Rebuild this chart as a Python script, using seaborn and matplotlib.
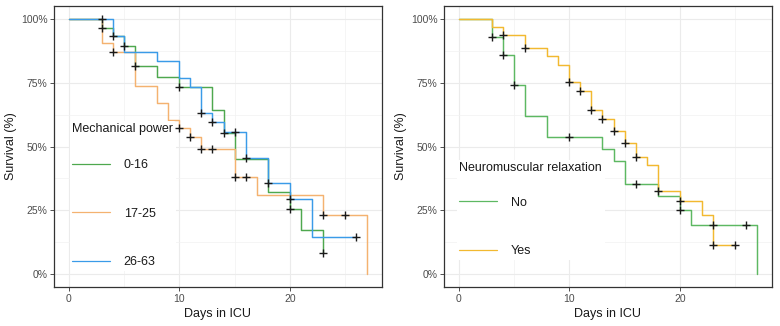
import numpy as np
import pandas as pd
import matplotlib
matplotlib.use("Agg")
import matplotlib.pyplot as plt
from matplotlib.lines import Line2D
import seaborn as sns

# ---------------- data ----------------
# Left panel: Mechanical power
mp_groups = ["0-16", "17-25", "26-63"]
mp_t_016 = [0, 3, 4, 5, 6, 8, 10, 13, 14, 15, 18, 20, 21, 23]
mp_s_016 = [100, 96.4, 93.1, 89.2, 81.4, 77.2, 73.3, 64.2, 55.3, 45.2, 32.2, 25.7, 17.3, 8.2]
mp_t_1725 = [0, 3, 4, 6, 8, 9, 10, 11, 12, 15, 17, 23, 27]
mp_s_1725 = [100, 90.6, 86.8, 73.6, 67.1, 60.5, 57.3, 53.6, 49.2, 38.2, 30.9, 23.0, 0]
mp_t_2663 = [0, 4, 5, 8, 10, 11, 12, 13, 14, 16, 18, 20, 22, 26]
mp_s_2663 = [100, 93.1, 86.8, 83.3, 76.8, 73.3, 63.3, 59.5, 55.5, 45.6, 35.8, 29.6, 14.7, 14.7]

mp_cens_t_016 = [3, 5, 6, 10, 14, 20, 23]
mp_cens_s_016 = [96.4, 89.2, 81.4, 73.3, 55.3, 25.7, 8.2]
mp_cens_t_1725 = [4, 10, 11, 12, 13, 15, 16, 23, 25]
mp_cens_s_1725 = [86.8, 57.3, 53.6, 49.2, 49.2, 38.2, 38.2, 23.0, 23.0]
mp_cens_t_2663 = [3, 4, 12, 13, 15, 16, 18, 20, 26]
mp_cens_s_2663 = [100, 93.1, 63.3, 59.5, 55.5, 45.6, 35.8, 29.6, 14.7]

# Right panel: Neuromuscular relaxation
nm_groups = ["No", "Yes"]
nm_t_no = [0, 3, 4, 5, 6, 8, 13, 14, 15, 18, 20, 21, 27]
nm_s_no = [100, 92.8, 85.7, 73.9, 61.8, 53.6, 49.1, 44.5, 35.5, 30.6, 25.3, 19.1, 0]
nm_t_yes = [0, 3, 4, 6, 8, 9, 10, 11, 12, 13, 14, 15, 16, 17, 18, 20, 22, 23, 25]
nm_s_yes = [100, 96.9, 93.8, 88.5, 85.4, 82.0, 75.1, 71.6, 64.4, 60.8, 56.0, 51.4, 46.0,
            42.6, 32.5, 28.8, 23.2, 11.3, 11.3]

nm_cens_t_no = [3, 4, 5, 10, 16, 20, 23, 26]
nm_cens_s_no = [92.8, 85.7, 73.9, 53.6, 35.5, 25.3, 19.1, 19.1]
nm_cens_t_yes = [4, 6, 10, 11, 12, 13, 14, 15, 16, 18, 20, 23, 25]
nm_cens_s_yes = [93.8, 88.5, 75.1, 71.6, 64.4, 60.8, 56.0, 51.4, 46.0, 32.5, 28.8, 11.3, 11.3]

x_ticks = [0, 10, 20]
y_ticks = [0, 25, 50, 75, 100]
y_ticklabels = ["0%", "25%", "50%", "75%", "100%"]

# ---------------- build tables ----------------
def steps_df(groups, ts, ss):
    rows = []
    for g, t, s in zip(groups, ts, ss):
        for ti, si in zip(t, s):
            rows.append({"group": g, "time": ti, "surv": si})
    return pd.DataFrame(rows)

mp_steps = steps_df(mp_groups, [mp_t_016, mp_t_1725, mp_t_2663],
                    [mp_s_016, mp_s_1725, mp_s_2663])
mp_cens = steps_df(mp_groups, [mp_cens_t_016, mp_cens_t_1725, mp_cens_t_2663],
                   [mp_cens_s_016, mp_cens_s_1725, mp_cens_s_2663])
nm_steps = steps_df(nm_groups, [nm_t_no, nm_t_yes], [nm_s_no, nm_s_yes])
nm_cens = steps_df(nm_groups, [nm_cens_t_no, nm_cens_t_yes], [nm_cens_s_no, nm_cens_s_yes])

mp_palette = {"0-16": "#4EA84E", "17-25": "#F4B270", "26-63": "#3A9BE8"}
nm_palette = {"No": "#5DB862", "Yes": "#F2B930"}

# ---------------- style ----------------
sns.set_theme(style="white")
plt.rcParams["font.family"] = ["Liberation Sans", "DejaVu Sans"]

fig = plt.figure(figsize=(7.8, 3.26), dpi=100)
ax1 = fig.add_axes([54 / 780, 39 / 326, 328 / 780, 281 / 326])
ax2 = fig.add_axes([444 / 780, 39 / 326, 328 / 780, 281 / 326])


def draw(ax, steps, cens, palette, groups, title, anchor, sep):
    sns.lineplot(data=steps, x="time", y="surv", hue="group", hue_order=groups,
                 palette=palette, estimator=None, sort=False, drawstyle="steps-post",
                 linewidth=1.05, ax=ax, zorder=3, legend=False)
    sns.scatterplot(data=cens, x="time", y="surv", marker="+", color="#1a1a1a",
                    s=40, linewidth=1.0, ax=ax, zorder=6, legend=False)
    ax.set_xlim(-1.35, 28.35)
    ax.set_ylim(-5, 105)
    ax.set_xticks(x_ticks)
    ax.set_xticks([5, 15, 25], minor=True)
    ax.set_yticks(y_ticks)
    ax.set_yticklabels(y_ticklabels)
    ax.set_yticks([12.5, 37.5, 62.5, 87.5], minor=True)
    ax.grid(True, which="major", color="#EBEBEB", linewidth=0.8, zorder=0)
    ax.grid(True, which="minor", color="#F2F2F2", linewidth=0.5, zorder=0)
    ax.set_axisbelow(True)
    for sp in ax.spines.values():
        sp.set_color("#333333")
        sp.set_linewidth(0.9)
    ax.tick_params(axis="both", which="major", length=2.75, width=0.6, color="#333333",
                   labelsize=7.5, labelcolor="#4D4D4D", pad=2, bottom=True, left=True)
    ax.tick_params(axis="both", which="minor", length=0)
    ax.set_xlabel("Days in ICU", fontsize=9, color="#1a1a1a", labelpad=3)
    ax.set_ylabel("Survival (%)", fontsize=9, color="#1a1a1a", labelpad=3)
    handles = [Line2D([], [], color=palette[g], linewidth=0.9) for g in groups]
    leg = ax.legend(handles, groups, title=title, loc="upper left",
                    bbox_to_anchor=anchor, fontsize=9, title_fontsize=9,
                    frameon=True, facecolor="white", edgecolor="none", framealpha=1,
                    handlelength=3.0, handletextpad=1.1, labelspacing=2.92,
                    borderpad=0.2, borderaxespad=0.3, alignment="left")
    leg._legend_box.sep = sep
    for t in leg.get_texts():
        t.set_color("#1a1a1a")
    leg.get_title().set_color("#1a1a1a")
    leg.set_zorder(5)


draw(ax1, mp_steps, mp_cens, mp_palette, mp_groups, "Mechanical power", (0.037, 0.605), 17.2)
draw(ax2, nm_steps, nm_cens, nm_palette, nm_groups, "Neuromuscular relaxation", (0.028, 0.466), 16.0)

fig.savefig("out.png", dpi=100)
